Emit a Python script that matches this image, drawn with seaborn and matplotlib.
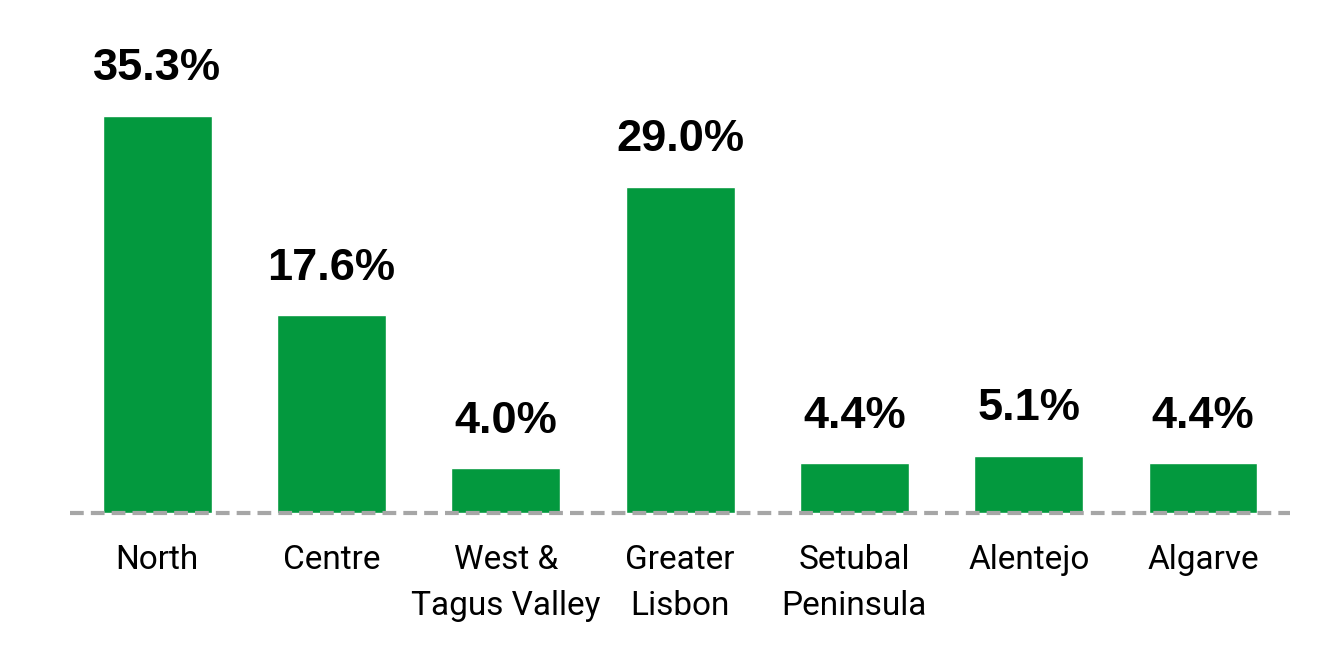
import matplotlib
matplotlib.use("Agg")
import matplotlib.pyplot as plt
import seaborn as sns
import pandas as pd

regions = ["North", "Centre", "West &\nTagus Valley", "Greater\nLisbon",
           "Setubal\nPeninsula", "Alentejo", "Algarve"]
shares = [35.3, 17.6, 4.0, 29.0, 4.4, 5.1, 4.4]

df = pd.DataFrame({"region": regions, "share": shares})

sns.set_theme(style="white")
plt.rcParams['font.family'] = ['Roboto', 'DejaVu Sans']

fig = plt.figure(figsize=(13.32, 6.68), dpi=100)
ax = fig.add_axes([0.0526, 0.232, 0.916, 0.674])

sns.barplot(data=df, x="region", y="share", color="#03993E", saturation=1,
            width=0.625, ax=ax)

ax.set_xlim(-0.5, 6.5)
ax.set_ylim(0, 40)
ax.axhline(0, color="#A6A6A6", lw=3, dashes=(3.3, 1.7), zorder=5, clip_on=False)

for i, v in enumerate(shares):
    ax.annotate(f"{v:.1f}%", (i, v), xytext=(0, 19), textcoords="offset points",
                ha="center", va="bottom", fontsize=32.5, fontweight="bold",
                family=["Liberation Sans", "DejaVu Sans"], color="black")

ax.set_xlabel("")
ax.set_ylabel("")
ax.set_yticks([])
ax.tick_params(axis="x", length=0, pad=22.5, labelsize=24)
for lbl in ax.get_xticklabels():
    lbl.set_linespacing(1.55)
    lbl.set_color("black")
for s in ax.spines.values():
    s.set_visible(False)

fig.savefig("out.png", dpi=100)
